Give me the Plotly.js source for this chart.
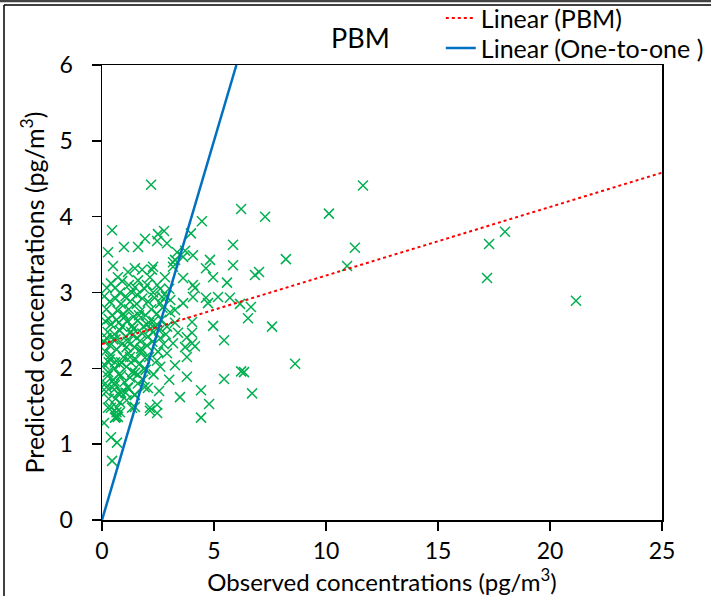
<!DOCTYPE html>
<html>
<head>
<meta charset="utf-8">
<script src="https://cdn.plot.ly/plotly-3.0.1.min.js"></script>
<style>html,body{margin:0;padding:0;background:#fff;}#chart{width:711px;height:596px;}</style>
</head>
<body>
<div id="chart"></div>
<script>
// Observed (x) and predicted (y) concentrations, pg/m3
const observed = [
  2.19,11.65,6.21,10.13,7.28,4.46,3.97,17.99,17.28,11.29,5.85,8.21,4.06,4.82,4.64,5.85,10.94,4.96,7.01,6.83,17.19,5.58,4.15,4.64,5.18,5.71,4.06,4.73,6.16,6.65,6.52,21.16,4.96,7.59,5.45,4.02,4.02,4.15,8.62,6.21,6.34,5.45,4.42,6.70,4.78,4.42,
  0.45,0.27,0.98,1.61,1.92,2.50,2.77,2.46,2.90,3.35,3.71,0.49,0.71,1.47,1.16,1.79,2.28,2.14,2.81,3.26,3.17,3.62,4.06,0.22,0.58,1.61,1.47,2.01,2.46,1.56,1.34,2.28,2.68,3.62,3.17,2.23,
  0.40,0.90,1.20,1.90,2.60,3.00,0.80,
  0.10,0.35,0.60,0.85,1.05,1.25,1.55,1.80,2.05,2.35,2.60,2.85,3.05,
  0.20,0.45,0.70,0.95,1.20,1.40,1.70,1.95,2.20,2.45,2.70,3.04,3.26,3.62,
  0.15,0.40,0.65,0.90,1.10,1.35,1.60,1.85,2.10,2.40,2.65,3.26,2.90,
  0.25,0.55,0.80,1.05,1.30,1.55,1.80,2.05,2.30,2.60,3.39,3.79,2.85,
  0.10,0.35,0.60,0.90,1.15,1.45,1.70,2.00,2.25,3.17,3.71,2.75,4.02,
  0.15,0.40,0.65,0.95,1.20,1.50,1.75,2.10,2.45,3.79,3.26,2.90,
  0.10,0.30,0.55,0.80,1.10,1.35,1.65,1.95,2.30,2.60,
  0.25,0.50,0.75,1.00,1.25,1.60,1.90,3.79,3.00,
  0.20,0.55,0.85,1.15,1.45,3.48,2.55,
  0.60,0.80,0.30,1.10,
  0.27,0.67,0.58,0.71,0.65,1.34,2.14,2.46,2.46,0.09,0.40,0.67,0.45,
  0.58,1.29,1.92,0.27,0.85,1.47,1.83,0.58,1.16,0.18,0.71,1.47,2.05,0.40,0.80,0.62,1.47,2.14,
  0.30,0.75,1.00,1.40,1.65,2.00,2.30,2.55,0.20,0.50,1.10,1.35,1.75,2.15,2.50,0.35,0.85,1.25,1.90,0.15,0.55,1.05,1.60
];
const predicted = [
  4.42,4.41,4.10,4.04,4.00,3.94,3.78,3.80,3.64,3.59,3.63,3.44,3.49,3.43,3.32,3.36,3.35,3.20,3.27,3.23,3.19,3.13,3.06,2.93,2.94,2.93,2.94,2.86,2.85,2.81,2.66,2.89,2.56,2.55,2.37,2.61,2.47,2.29,2.06,1.96,1.95,1.86,1.71,1.67,1.53,1.35,
  3.82,3.53,3.60,3.60,3.71,3.77,3.81,3.68,3.65,3.53,3.55,3.35,3.20,3.32,3.27,3.30,3.34,3.20,3.20,3.43,3.34,3.19,3.10,3.06,3.06,3.16,3.07,3.10,3.10,2.97,3.00,3.00,2.94,3.47,3.40,3.30,
  3.12,3.15,3.10,3.05,3.05,3.05,3.00,
  2.95,2.88,2.92,2.85,2.95,2.88,2.85,2.92,2.88,2.93,2.86,2.95,2.90,
  2.78,2.70,2.76,2.72,2.78,2.68,2.75,2.70,2.78,2.72,2.80,2.74,2.77,2.86,
  2.62,2.58,2.64,2.55,2.62,2.56,2.63,2.55,2.60,2.55,2.64,2.60,2.55,
  2.48,2.45,2.50,2.42,2.48,2.40,2.46,2.42,2.48,2.40,2.47,2.41,2.45,
  2.35,2.30,2.38,2.32,2.35,2.28,2.36,2.30,2.35,2.33,2.28,2.32,2.33,
  2.22,2.18,2.25,2.15,2.20,2.12,2.22,2.15,2.10,2.15,2.04,2.20,
  2.05,2.08,2.00,2.05,2.02,1.95,2.05,1.98,1.92,2.02,
  1.90,1.85,1.92,1.82,1.88,1.80,1.75,1.89,1.85,
  1.75,1.72,1.68,1.75,1.65,1.62,1.70,
  1.60,1.55,1.60,1.58,
  1.48,1.48,1.35,1.36,1.42,1.48,1.44,1.52,1.41,1.28,1.09,1.02,0.78,
  2.08,2.08,2.14,1.95,1.91,1.94,1.85,1.78,1.74,1.69,1.67,1.65,1.74,1.48,1.42,1.36,1.49,1.48,
  2.65,2.60,2.68,2.52,2.70,2.58,2.62,2.50,2.40,2.38,2.28,2.44,2.26,2.52,2.22,2.12,2.08,2.15,2.00,1.80,1.80,1.68,1.92
];
// Trend line endpoints
const pbmLineX = [0, 25];
const pbmLineY = [2.32, 4.58];
const oneLineX = [0, 6];
const oneLineY = [0, 6];
const xTicks = [0, 5, 10, 15, 20, 25];
const yTicks = [0, 1, 2, 3, 4, 5, 6];

const FONT = 'Lato, "Open Sans", sans-serif';
const traces = [
  {x: observed, y: predicted, type: 'scatter', mode: 'markers', showlegend: false,
   marker: {symbol: 'x-thin', size: 10, color: '#00b050', line: {width: 1.5, color: '#00b050'}}},
  {x: pbmLineX, y: pbmLineY, type: 'scatter', mode: 'lines', name: 'Linear (PBM)', legend: 'legend',
   line: {color: '#ff0000', dash: 'dot', width: 2}},
  {x: oneLineX, y: oneLineY, type: 'scatter', mode: 'lines', name: 'Linear (One-to-one )', legend: 'legend2',
   line: {color: '#0070c0', width: 2.5}}
];
const axisCommon = {showgrid: false, zeroline: false, showline: true, linecolor: '#000', linewidth: 1.5,
  mirror: true, ticks: 'outside', ticklen: 9, tickwidth: 1.5, tickcolor: '#000',
  tickfont: {family: FONT, size: 23, color: '#000'}};
const legendCommon = {xanchor: 'left', yanchor: 'middle', bgcolor: 'rgba(0,0,0,0)',
  font: {family: FONT, size: 25, color: '#000'}, itemwidth: 30};
const layout = {
  width: 711, height: 596,
  margin: {l: 102, r: 49, t: 65, b: 76, autoexpand: false},
  paper_bgcolor: '#fff', plot_bgcolor: '#fff',
  font: {family: FONT, color: '#000'},
  title: {text: 'PBM', font: {family: FONT, size: 27, color: '#000'}, x: 0.507, xanchor: 'center', y: 0.935, yanchor: 'middle'},
  xaxis: Object.assign({}, axisCommon, {range: [0, 25], tickvals: xTicks, ticklabelstandoff: 1,
    title: {text: 'Observed concentrations (pg/m<sup>3</sup>)', font: {family: FONT, size: 24, color: '#000'}, standoff: 9}}),
  yaxis: Object.assign({}, axisCommon, {range: [0, 6], tickvals: yTicks, ticklabelstandoff: 14,
    title: {text: 'Predicted concentrations (pg/m<sup>3</sup>)', font: {family: FONT, size: 25, color: '#000'}, standoff: 8}}),
  showlegend: true,
  legend: Object.assign({}, legendCommon, {x: 0.605, y: 1.103}),
  legend2: Object.assign({}, legendCommon, {x: 0.605, y: 1.037}),
  shapes: [
    {type: 'line', xref: 'paper', yref: 'paper', x0: -0.2, x1: 1.1, y0: 1.141, y1: 1.141, line: {color: '#444', width: 3}},
    {type: 'line', xref: 'paper', yref: 'paper', x0: -0.175, x1: 1.1, y0: 1.132, y1: 1.132, line: {color: '#000', width: 1.5}},
    {type: 'line', xref: 'paper', yref: 'paper', x0: -0.175, x1: -0.175, y0: 1.132, y1: -0.2, line: {color: '#000', width: 1.5}}
  ]
};
Plotly.newPlot('chart', traces, layout, {displayModeBar: false, staticPlot: true});
</script>
</body>
</html>
